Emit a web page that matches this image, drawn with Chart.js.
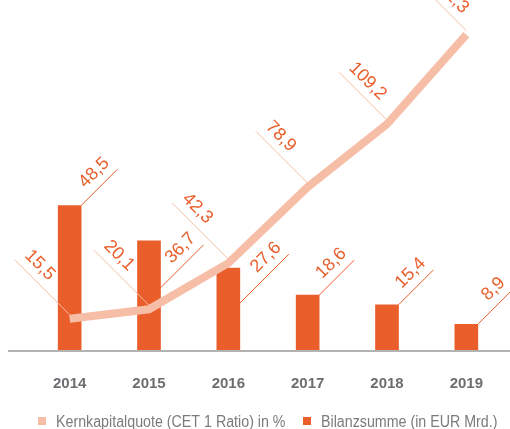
<!DOCTYPE html>
<html>
<head>
<meta charset="utf-8">
<script src="https://cdn.jsdelivr.net/npm/chart.js@4/dist/chart.umd.min.js"></script>
<style>
  html, body { margin: 0; padding: 0; background: #fff; }
  #wrap { width: 510px; height: 429px; }
</style>
</head>
<body>
<div id="wrap"><canvas id="chart"></canvas></div>
<script>
/* ===============================
   DATA
================================ */
const years = ["2014", "2015", "2016", "2017", "2018", "2019"];
const cetRatio = [15.5, 20.1, 42.3, 78.9, 109.2, 152.3];     // Kernkapitalquote in %
const totalAssets = [48.5, 36.7, 27.6, 18.6, 15.4, 8.9];    // Bilanzsumme in EUR Mrd.
const seriesNames = ["Kernkapitalquote (CET 1 Ratio) in %", "Bilanzsumme (in EUR Mrd.)"];

const ORANGE = "#e95e2a";
const SALMON = "#f6bea6";
const GREY = "#6d6e71";
const FONT = "'Liberation Sans', Arial, sans-serif";

const fmt = v => v.toFixed(1).replace(".", ",");

/* ===============================
   PLUGINS (baseline, value labels, legend)
================================ */
const baseline = {
  id: "baseline",
  afterDatasetsDraw(chart){
    const ctx = chart.ctx;
    ctx.save();
    ctx.fillStyle = "#b3b3b3";
    ctx.fillRect(8, chart.chartArea.bottom - 1, 502, 2);
    ctx.restore();
  }
};

// leader tweaks (pixels) so the labels don't collide
const barDrop = [0, 47, 35, 0, 0, 0];
const barLen = [36, 43, 49, 35, 35, 35];
const lineLen = [55, 55, 56, 52, 48, 45];

const valueLabels = {
  id: "valueLabels",
  afterDatasetsDraw(chart){
    const ctx = chart.ctx;
    const lineMeta = chart.getDatasetMeta(0);
    const barMeta = chart.getDatasetMeta(1);
    ctx.save();
    ctx.font = "18px " + FONT;
    ctx.lineWidth = 1;

    // bars: leader up-right from the top right corner
    barMeta.data.forEach((bar, i) => {
      const sx = bar.x + bar.width / 2;
      const sy = bar.y + barDrop[i];
      const ex = sx + barLen[i], ey = sy - barLen[i];
      ctx.strokeStyle = ORANGE;
      ctx.beginPath(); ctx.moveTo(sx, sy); ctx.lineTo(ex, ey); ctx.stroke();
      ctx.save();
      ctx.translate(ex, ey);
      ctx.rotate(-Math.PI / 4);
      ctx.fillStyle = ORANGE;
      ctx.textAlign = "right";
      ctx.textBaseline = "middle";
      ctx.fillText(fmt(totalAssets[i]), -1, -14);
      ctx.restore();
    });

    // line: leader up-left from the point
    lineMeta.data.forEach((pt, i) => {
      const ex = pt.x, ey = pt.y - 4;
      const len = lineLen[i];
      const sx = ex - len, sy = ey - len;
      ctx.strokeStyle = SALMON;
      ctx.beginPath(); ctx.moveTo(sx, sy); ctx.lineTo(ex, ey); ctx.stroke();
      ctx.save();
      ctx.translate(sx, sy);
      ctx.rotate(Math.PI / 4);
      ctx.fillStyle = ORANGE;
      ctx.textAlign = "left";
      ctx.textBaseline = "middle";
      ctx.fillText(fmt(cetRatio[i]), 4, -14);
      ctx.restore();
    });
    ctx.restore();
  }
};

// legend drawn by hand, slightly condensed like the original
const legendItems = {
  id: "legendItems",
  afterDraw(chart){
    const ctx = chart.ctx;
    const colors = [SALMON, ORANGE];
    const xs = [38, 303];
    ctx.save();
    ctx.font = "16px " + FONT;
    ctx.textBaseline = "alphabetic";
    seriesNames.forEach((name, i) => {
      ctx.fillStyle = colors[i];
      ctx.fillRect(xs[i], 417, 8, 8);
      ctx.save();
      ctx.translate(xs[i] + 18, 427);
      ctx.scale(0.89, 1);
      ctx.fillStyle = "#7a7b7e";
      ctx.fillText(name, 0, 0);
      ctx.restore();
    });
    ctx.restore();
  }
};

/* ===============================
   CHART
================================ */
new Chart(document.getElementById("chart"), {
  type: "bar",
  data: {
    labels: years,
    datasets: [{
      type: "line",
      label: seriesNames[0],
      data: cetRatio,
      yAxisID: "yLine",
      borderColor: SALMON,
      backgroundColor: SALMON,
      borderWidth: 8,
      pointRadius: 0,
      tension: 0,
      clip: false,
      order: 0
    },{
      label: seriesNames[1],
      data: totalAssets,
      yAxisID: "yBar",
      backgroundColor: ORANGE,
      barThickness: 23,
      order: 1
    }]
  },
  options: {
    responsive: true,
    maintainAspectRatio: false,
    animation: false,
    events: [],
    layout: { padding: { left: 30, right: 4, top: 0, bottom: 12 } },
    plugins: {
      tooltip: { enabled: false },
      legend: { display: false }
    },
    scales: {
      x: {
        grid: { display: false, drawTicks: false },
        border: { display: false },
        ticks: {
          color: GREY,
          padding: 24,
          font: { family: FONT, size: 15, weight: "bold" }
        }
      },
      yBar: { display: false, min: 0, max: 117 },
      yLine: { display: false, min: 0, max: 169 }
    }
  },
  plugins: [baseline, valueLabels, legendItems]
});
</script>
</body>
</html>
